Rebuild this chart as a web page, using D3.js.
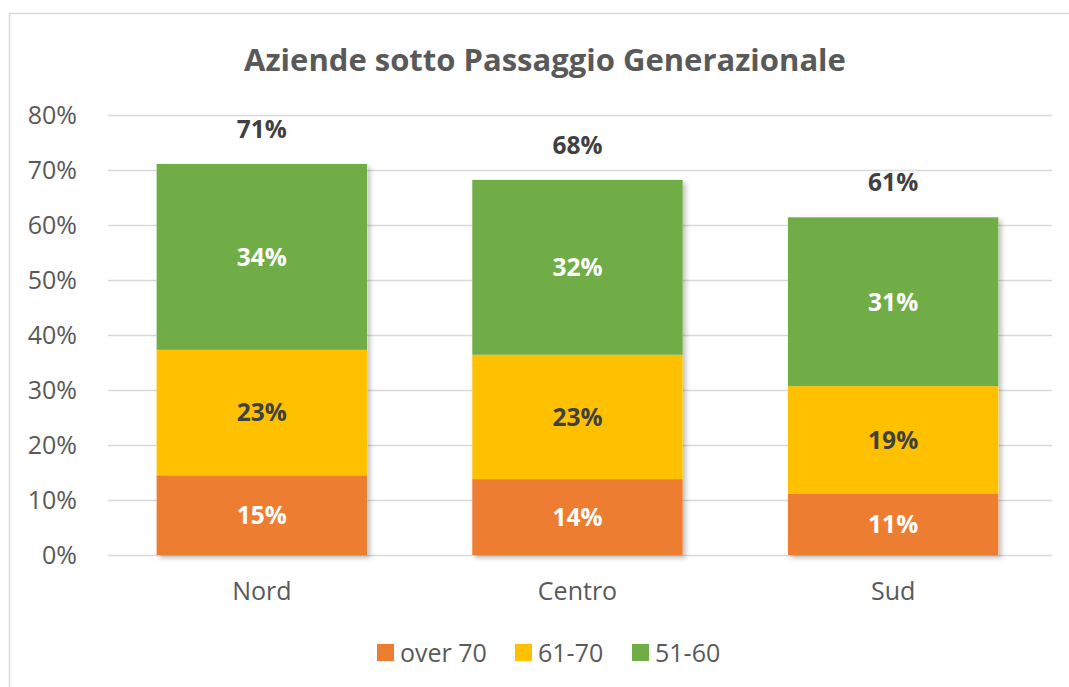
<!DOCTYPE html>
<html><head><meta charset="utf-8">
<script src="https://cdn.jsdelivr.net/npm/d3@7"></script>
<style>body{margin:0;background:#fff}svg{display:block}</style>
</head><body>
<svg id="c" width="1069" height="687"></svg>
<script>
const categories = ["Nord", "Centro", "Sud"];
const seriesNames = ["over 70", "61-70", "51-60"];
const over70 = [14.5, 13.8, 11.2];
const s61_70 = [22.8, 22.6, 19.5];
const s51_60 = [33.8, 31.8, 30.7];
const labelsOver70 = ["15%", "14%", "11%"];
const labels61_70 = ["23%", "23%", "19%"];
const labels51_60 = ["34%", "32%", "31%"];
const totalLabels = ["71%", "68%", "61%"];
const yTicks = [0, 10, 20, 30, 40, 50, 60, 70, 80];
const colors = ["#ED7D31", "#FFC000", "#70AD47"];
const labelColors = ["#ffffff", "#404040", "#ffffff"];

const font = "'Open Sans', sans-serif";
const svg = d3.select("#c");
svg.append("rect").attr("x", 9.5).attr("y", 13.5).attr("width", 1070).attr("height", 690)
  .attr("fill", "#fff").attr("stroke", "#d9d9d9").attr("stroke-width", 1.5);

svg.append("text").attr("x", 545).attr("y", 71).attr("text-anchor", "middle")
  .attr("font-family", font).attr("font-weight", "bold").attr("font-size", 31)
  .attr("fill", "#595959").text("Aziende sotto Passaggio Generazionale");

const x = d3.scaleBand().domain(categories).range([104, 1051]).paddingInner(1/3).paddingOuter(1/6);
const y = d3.scaleLinear().domain([0, 80]).range([555, 115]);

const yAxis = d3.axisLeft(y).tickValues(yTicks).tickFormat(d => d + "%").tickSize(-(1052 - 108)).tickPadding(30);
const gy = svg.append("g").attr("transform", "translate(108,0)").call(yAxis);
gy.select(".domain").remove();
gy.selectAll(".tick line").attr("stroke", "#d9d9d9").attr("stroke-width", 1.5);
gy.selectAll(".tick text").attr("font-family", font).attr("font-size", 25).attr("fill", "#595959").attr("x", -31);

const xAxis = d3.axisBottom(x).tickSize(0).tickPadding(27);
const gx = svg.append("g").attr("transform", "translate(0,555)").call(xAxis);
gx.select(".domain").remove();
gx.selectAll(".tick text").attr("font-family", font).attr("font-size", 25).attr("fill", "#595959");

const data = categories.map((c, i) => ({cat: c, "over 70": over70[i], "61-70": s61_70[i], "51-60": s51_60[i]}));
const stacked = d3.stack().keys(seriesNames)(data);
const segLabels = [labelsOver70, labels61_70, labels51_60];

const defs = svg.append("defs");
const f = defs.append("filter").attr("id", "sh").attr("x", "-10%").attr("y", "-10%").attr("width", "130%").attr("height", "130%");
f.append("feDropShadow").attr("dx", 3).attr("dy", 3).attr("stdDeviation", 2.5).attr("flood-color", "#000").attr("flood-opacity", 0.25);

svg.append("g").selectAll("rect").data(data).join("rect")
  .attr("x", d => x(d.cat)).attr("width", x.bandwidth())
  .attr("y", (d, i) => y(stacked[2][i][1])).attr("height", (d, i) => y(0) - y(stacked[2][i][1]))
  .attr("fill", "#fff").attr("filter", "url(#sh)");

stacked.forEach((s, si) => {
  const g = svg.append("g");
  g.selectAll("rect").data(s).join("rect")
    .attr("x", d => x(d.data.cat)).attr("width", x.bandwidth())
    .attr("y", d => y(d[1])).attr("height", d => y(d[0]) - y(d[1]))
    .attr("fill", colors[si]);
  g.selectAll("text").data(s).join("text")
    .attr("x", d => x(d.data.cat) + x.bandwidth() / 2)
    .attr("y", d => (y(d[0]) + y(d[1])) / 2)
    .attr("dy", "0.36em").attr("text-anchor", "middle")
    .attr("font-family", font).attr("font-weight", "bold").attr("font-size", 24.5)
    .attr("fill", labelColors[si]).text((d, i) => segLabels[si][i]);
});

svg.append("g").selectAll("text").data(stacked[2]).join("text")
  .attr("x", d => x(d.data.cat) + x.bandwidth() / 2)
  .attr("y", d => y(d[1]) - 35).attr("dy", "0.36em").attr("text-anchor", "middle")
  .attr("font-family", font).attr("font-weight", "bold").attr("font-size", 24.5)
  .attr("fill", "#404040").text((d, i) => totalLabels[i]);

const legX = [377, 515, 632];
const lg = svg.append("g");
seriesNames.forEach((n, i) => {
  lg.append("rect").attr("x", legX[i]).attr("y", 644).attr("width", 17).attr("height", 17).attr("fill", colors[i]);
  lg.append("text").attr("x", legX[i] + 23).attr("y", 653).attr("dy", "0.36em")
    .attr("font-family", font).attr("font-size", 25).attr("fill", "#595959").text(n);
});
</script>
</body></html>
